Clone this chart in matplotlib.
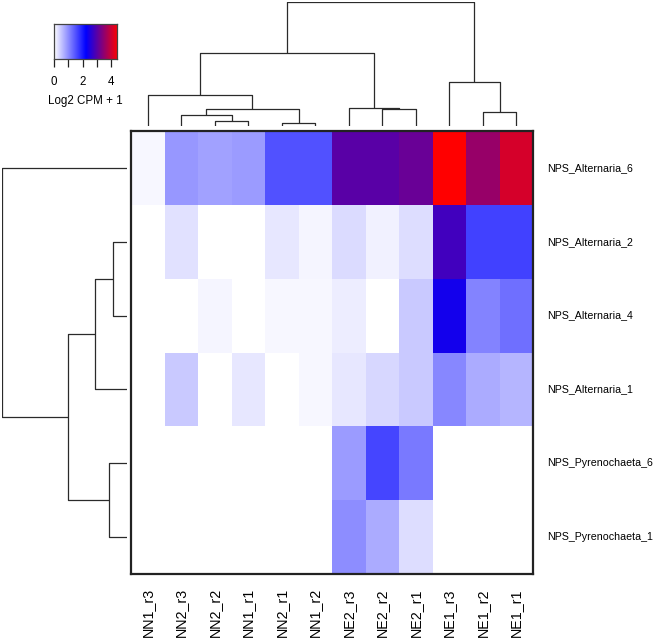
import numpy as np
import matplotlib
matplotlib.use("Agg")
import matplotlib.pyplot as plt
from matplotlib.colors import LinearSegmentedColormap

plt.rcParams['font.family'] = ['Liberation Sans', 'DejaVu Sans']

# samples (columns) and NPS genes (rows), in dendrogram order
samples = ["NN1_r3", "NN2_r3", "NN2_r2", "NN1_r1", "NN2_r1", "NN1_r2",
           "NE2_r3", "NE2_r2", "NE2_r1", "NE1_r3", "NE1_r2", "NE1_r1"]
genes = ["NPS_Alternaria_6", "NPS_Alternaria_2", "NPS_Alternaria_4",
         "NPS_Alternaria_1", "NPS_Pyrenochaeta_6", "NPS_Pyrenochaeta_1"]

# Log2 CPM + 1 values
alt6 = [0.07, 0.90, 0.82, 0.86, 1.51, 1.50, 2.97, 2.96, 3.10, 4.40, 3.50, 4.03]
alt2 = [0.00, 0.26, 0.00, 0.00, 0.22, 0.09, 0.32, 0.13, 0.30, 2.75, 1.64, 1.64]
alt4 = [0.00, 0.00, 0.09, 0.00, 0.08, 0.08, 0.16, 0.00, 0.47, 2.37, 1.08, 1.25]
alt1 = [0.00, 0.47, 0.00, 0.22, 0.00, 0.08, 0.22, 0.35, 0.47, 1.04, 0.73, 0.65]
pyr6 = [0.00, 0.00, 0.00, 0.00, 0.00, 0.00, 0.86, 1.60, 1.16, 0.00, 0.00, 0.00]
pyr1 = [0.00, 0.00, 0.00, 0.00, 0.00, 0.00, 0.99, 0.73, 0.30, 0.00, 0.00, 0.00]

# column clustering: (left, right, height); leaves 0..11, new clusters 12..
col_merges = [(4, 5, 3.3), (2, 3, 5.3), (1, 13, 11.3), (14, 12, 17.0),
              (7, 8, 17.0), (6, 16, 18.0), (0, 15, 31.0), (10, 11, 14.3),
              (9, 19, 43.7), (18, 17, 73.3), (21, 20, 124.0)]
# row clustering
row_merges = [(1, 2, 13.7), (6, 3, 32.3), (4, 5, 18.3), (7, 8, 59.3),
              (0, 9, 125.0)]

vmax = 4.4
cmap = LinearSegmentedColormap.from_list("wbr", ["white", "blue", "red"])


def draw_dendro(ax, merges, n, horizontal=False, color="#2a2a2a", lw=0.9):
    pos = {i: i + 0.5 for i in range(n)}
    hgt = {i: 0.0 for i in range(n)}
    for k, (a, b, h) in enumerate(merges):
        xa, xb = pos[a], pos[b]
        xs = [xa, xa, xb, xb]
        ys = [hgt[a], h, h, hgt[b]]
        if horizontal:
            ax.plot(ys, xs, color=color, lw=lw, solid_capstyle="butt")
        else:
            ax.plot(xs, ys, color=color, lw=lw, solid_capstyle="butt")
        pos[n + k] = (xa + xb) / 2
        hgt[n + k] = h
    ax.axis("off")


data = np.array([alt6, alt2, alt4, alt1, pyr6, pyr1])

fig = plt.figure(figsize=(6.65, 6.4), dpi=100)
W, H = 665., 640.

# heatmap
axh = fig.add_axes([131 / W, 1 - 574 / H, 402 / W, 443 / H])
axh.pcolormesh(np.arange(13), np.arange(7), data, cmap=cmap, vmin=0, vmax=vmax)
axh.set_xlim(0, 12)
axh.set_ylim(6, 0)
axh.set_xticks([])
axh.set_yticks([])
for s in axh.spines.values():
    s.set_linewidth(1.6)
    s.set_color("#222222")
for i, g in enumerate(genes):
    fig.text(547 / W, 1 - (131 + 73.8 * (i + 0.5)) / H, g, ha="left",
             va="center", fontsize=7.7)
for j, s in enumerate(samples):
    axh.text(j + 0.5, 6.19, s, rotation=90, ha="center", va="top",
             fontsize=10.3, transform=axh.transData, clip_on=False)

# top dendrogram
axt = fig.add_axes([131 / W, 1 - 126 / H, 402 / W, 124 / H])
draw_dendro(axt, col_merges, 12)
axt.set_xlim(0, 12)
axt.set_ylim(0, col_merges[-1][2])

# left dendrogram
axl = fig.add_axes([2 / W, 1 - 574 / H, 125 / W, 443 / H])
draw_dendro(axl, row_merges, 6, horizontal=True)
axl.set_ylim(6, 0)
axl.set_xlim(row_merges[-1][2], 0)

# colour key
axk = fig.add_axes([53.5 / W, 1 - 59 / H, 63.5 / W, 35 / H])
grad = np.linspace(0, vmax, 256).reshape(1, -1)
axk.imshow(grad, cmap=cmap, vmin=0, vmax=vmax, aspect="auto",
           extent=[-0.03, vmax, 0, 1])
axk.set_xlim(-0.03, vmax)
axk.set_yticks([])
axk.set_xticks([0, 2, 4])
axk.set_xticks([1, 3], minor=True)
axk.tick_params(axis="x", which="both", direction="out", length=5.5,
                width=0.9, labelsize=8.3, pad=7, color="#222222")
axk.set_xlabel("Log2 CPM + 1", fontsize=8.3, labelpad=5)
for s in axk.spines.values():
    s.set_linewidth(0.9)
    s.set_color("#444444")

fig.savefig("out.png", dpi=100)
